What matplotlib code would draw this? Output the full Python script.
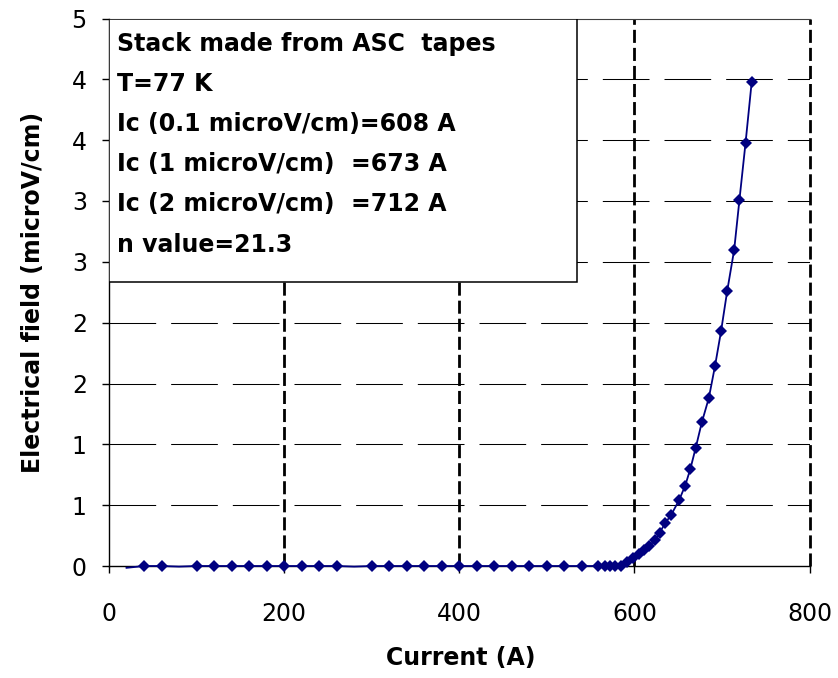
import matplotlib
matplotlib.use("Agg")
import matplotlib.pyplot as plt
from matplotlib.patches import Rectangle

# V-I curve of the tape stack
current = [20, 40, 60, 80, 100, 120, 140, 160, 180, 200, 220, 240, 260, 280,
           300, 320, 340, 360, 380, 400, 420, 440, 460, 480, 500, 520, 540,
           558, 566, 572, 578, 585, 592, 599, 605, 611, 617, 623, 629, 635,
           642, 651, 658, 664, 670, 677, 685, 692, 699, 706, 714, 720, 727, 734]
efield = [-0.015, 0, 0, -0.005, 0, 0, 0, 0, 0, 0, 0, 0, 0, -0.005,
          0, 0, 0, 0, 0, 0, 0, 0, 0, 0, 0, 0, 0,
          0, 0, 0, 0, 0, 0.03, 0.068, 0.10, 0.13, 0.165, 0.21, 0.275, 0.35,
          0.42, 0.54, 0.66, 0.80, 0.97, 1.18, 1.38, 1.64, 1.93, 2.26, 2.60, 3.01, 3.48, 3.98]
# points drawn without a marker in the original
no_marker = [20, 80, 280]

x_ticks = [0, 200, 400, 600, 800]
y_ticks = [0, 0.5, 1.0, 1.5, 2.0, 2.5, 3.0, 3.5, 4.0, 4.5]
y_ticklabels = ['0', '1', '1', '2', '2', '3', '3', '4', '4', '5']

info_lines = [
    "Stack made from ASC  tapes",
    "T=77 K",
    "Ic (0.1 microV/cm)=608 A",
    "Ic (1 microV/cm)  =673 A",
    "Ic (2 microV/cm)  =712 A",
    "n value=21.3",
]

plt.rcParams['font.family'] = 'DejaVu Sans'
plt.rcParams['lines.scale_dashes'] = False

W, H = 838, 678
fig = plt.figure(figsize=(W / 100, H / 100), dpi=100)
ax = fig.add_axes([109 / W, 1 - 566 / H, 700.5 / W, 547.5 / H])

ax.set_xlim(0, 800)
ax.set_ylim(0, 4.5)

# dashed grid, drawn by hand to match the Excel look
for yv in y_ticks[1:-1]:
    ax.axhline(yv, color='black', lw=0.75, linestyle=(0, (33.6, 10.8)), zorder=1)
for xv in x_ticks[1:]:
    ax.axvline(xv, color='black', lw=2.0, linestyle=(0, (9.4, 3.6)), zorder=1, clip_on=False)

# data line + diamond markers
marks = [i for i, c in enumerate(current) if c not in no_marker]
ax.plot(current, efield, color='#000080', lw=1.3, marker='D', markersize=6.4,
        markeredgewidth=0, markevery=marks, zorder=4, clip_on=False)

# info box
ax.add_patch(Rectangle((0, 0.518), 0.6677, 0.482, transform=ax.transAxes,
                       facecolor='white', edgecolor='black', lw=1.1, zorder=3))
for k, line in enumerate(info_lines):
    fig.text(117 / W, 1 - (50.5 + 40.2 * k) / H, line, fontsize=17,
             fontweight='bold', va='baseline', ha='left', zorder=5)

ax.spines['right'].set_visible(False)
ax.spines['top'].set_color('#404040')
for s in ['left', 'bottom']:
    ax.spines[s].set_color('black')
    ax.spines[s].set_linewidth(1.0)

ax.set_xticks(x_ticks)
ax.set_yticks(y_ticks)
ax.set_yticklabels(y_ticklabels)
ax.tick_params(axis='both', direction='out', length=5, width=1, labelsize=17)
ax.tick_params(axis='x', pad=21)
ax.tick_params(axis='y', pad=11)

fig.text(461 / W, 1 - 658 / H, "Current (A)", fontsize=17, fontweight='bold',
         ha='center', va='center')
fig.text(33 / W, 1 - 292 / H, "Electrical field (microV/cm)", fontsize=17,
         fontweight='bold', ha='center', va='center', rotation=90)

fig.savefig("out.png", dpi=100)
